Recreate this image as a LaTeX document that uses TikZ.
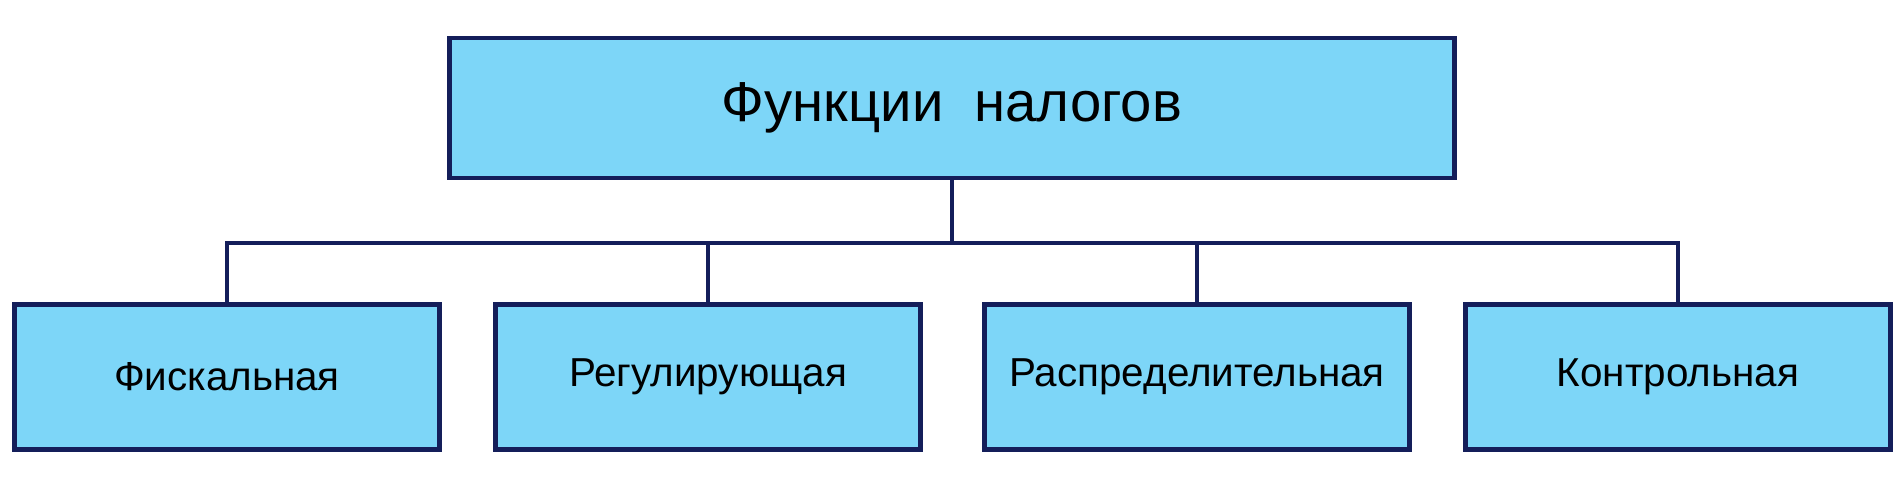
\documentclass[tikz,border=0pt]{standalone}
\usepackage{fontspec}
\setmainfont{Liberation Sans}
\definecolor{boxfill}{RGB}{125,214,248}
\definecolor{boxline}{RGB}{20,30,90}
\tikzset{
  topbox/.style={draw=boxline,fill=boxfill,line width=2.6pt,minimum width=20.1cm,minimum height=2.8cm,font=\fontsize{32}{36}\selectfont},
  funcbox/.style={draw=boxline,fill=boxfill,line width=2.6pt,minimum width=8.5cm,minimum height=2.9cm,font=\fontsize{23}{27}\selectfont},
  link/.style={draw=boxline,line width=2.2pt}
}
\begin{document}
\begin{tikzpicture}[x=0.02cm,y=-0.02cm]
\useasboundingbox (0,0) rectangle (1899,484);

% Top box
\node[topbox] (taxes) at (952,108) {Функции\ \ налогов};

% Function boxes
\node[funcbox] (fiscal) at (227,377) {Фискальная};
\node[funcbox] (regul) at (708,377) {Регулирующая};
\node[funcbox] (distr) at (1197,377) {Распределительная};
\node[funcbox] (control) at (1678,377) {Контрольная};

% Connectors
\coordinate (hub) at (952,243);
\draw[link] (taxes.south) -- (hub);
\draw[link] (fiscal.north) |- (hub) -| (control.north);
\draw[link] (regul.north) -- (regul.north |- hub);
\draw[link] (distr.north) -- (distr.north |- hub);
\end{tikzpicture}
\end{document}
